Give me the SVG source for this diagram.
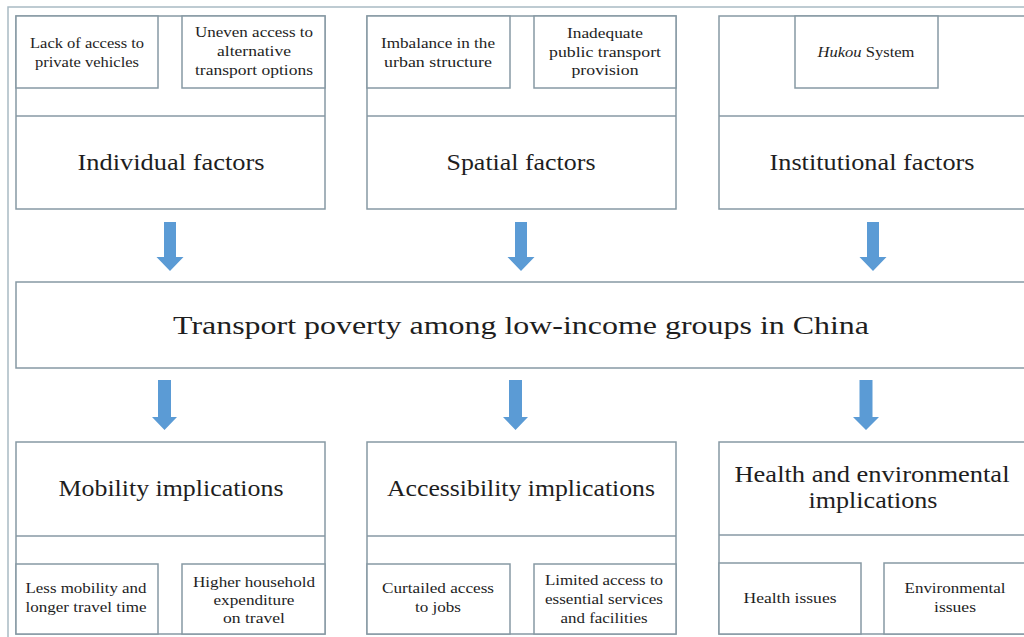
<svg xmlns="http://www.w3.org/2000/svg" width="1024" height="637" viewBox="0 0 1024 637">
<defs>
<style>
.frame{fill:none;stroke:#a9bac4;stroke-width:1.5}
.box{fill:#ffffff;stroke:#8799a4;stroke-width:1.5}
.line{stroke:#8799a4;stroke-width:1.5}
.arr{fill:#5b9bd5}
text{font-family:"Liberation Serif","Times New Roman",serif;fill:#1e1e1e;text-anchor:middle}
.s{font-size:15px}
.b{font-size:23px}
.m{font-size:26px}
</style>
</defs>
<rect x="0" y="0" width="1024" height="637" fill="#ffffff"/>
<path class="frame" d="M8,640 L8,7 L1030,7"/>

<g id="individual">
<rect class="box" x="16" y="16" width="309" height="193"/>
<line class="line" x1="16" y1="116" x2="325" y2="116"/>
<text class="b" x="171" y="170" textLength="187" lengthAdjust="spacingAndGlyphs">Individual factors</text>
</g>
<g id="lack-private">
<rect class="box" x="16" y="16" width="142" height="72"/>
<text class="s" x="87" y="48" textLength="114" lengthAdjust="spacingAndGlyphs">Lack of access to</text>
<text class="s" x="87" y="67" textLength="104" lengthAdjust="spacingAndGlyphs">private vehicles</text>
</g>
<g id="uneven-access">
<rect class="box" x="182" y="16" width="143" height="72"/>
<text class="s" x="254" y="37" textLength="118" lengthAdjust="spacingAndGlyphs">Uneven access to</text>
<text class="s" x="254" y="56" textLength="74" lengthAdjust="spacingAndGlyphs">alternative</text>
<text class="s" x="254" y="75" textLength="118" lengthAdjust="spacingAndGlyphs">transport options</text>
</g>

<g id="spatial">
<rect class="box" x="367" y="16" width="309" height="193"/>
<line class="line" x1="367" y1="116" x2="676" y2="116"/>
<text class="b" x="521" y="170" textLength="149" lengthAdjust="spacingAndGlyphs">Spatial factors</text>
</g>
<g id="imbalance">
<rect class="box" x="367" y="16" width="143" height="72"/>
<text class="s" x="438" y="48" textLength="114" lengthAdjust="spacingAndGlyphs">Imbalance in the</text>
<text class="s" x="438" y="67" textLength="108" lengthAdjust="spacingAndGlyphs">urban structure</text>
</g>
<g id="inadequate">
<rect class="box" x="534" y="16" width="142" height="72"/>
<text class="s" x="605" y="38" textLength="76" lengthAdjust="spacingAndGlyphs">Inadequate</text>
<text class="s" x="605" y="57" textLength="112" lengthAdjust="spacingAndGlyphs">public transport</text>
<text class="s" x="605" y="75" textLength="67" lengthAdjust="spacingAndGlyphs">provision</text>
</g>

<g id="institutional">
<rect class="box" x="719" y="16" width="315" height="193"/>
<line class="line" x1="719" y1="116" x2="1034" y2="116"/>
<text class="b" x="872" y="170" textLength="205" lengthAdjust="spacingAndGlyphs">Institutional factors</text>
</g>
<g id="hukou">
<rect class="box" x="795" y="16" width="143" height="72"/>
<text class="s" x="866" y="57" textLength="97" lengthAdjust="spacingAndGlyphs"><tspan font-style="italic">Hukou</tspan> System</text>
</g>

<g id="transport-poverty">
<rect class="box" x="16" y="282" width="1020" height="86"/>
<text class="m" x="521" y="334" textLength="696" lengthAdjust="spacingAndGlyphs">Transport poverty among low-income groups in China</text>
</g>

<g id="mobility">
<rect class="box" x="16" y="442" width="309" height="192"/>
<line class="line" x1="16" y1="536" x2="325" y2="536"/>
<text class="b" x="171" y="496" textLength="225" lengthAdjust="spacingAndGlyphs">Mobility implications</text>
</g>
<g id="less-mobility">
<rect class="box" x="16" y="564" width="142" height="70"/>
<text class="s" x="86" y="593" textLength="121" lengthAdjust="spacingAndGlyphs">Less mobility and</text>
<text class="s" x="86" y="612" textLength="121" lengthAdjust="spacingAndGlyphs">longer travel time</text>
</g>
<g id="higher-expenditure">
<rect class="box" x="182" y="564" width="143" height="70"/>
<text class="s" x="254" y="587" textLength="122" lengthAdjust="spacingAndGlyphs">Higher household</text>
<text class="s" x="254" y="605" textLength="81" lengthAdjust="spacingAndGlyphs">expenditure</text>
<text class="s" x="254" y="623" textLength="62" lengthAdjust="spacingAndGlyphs">on travel</text>
</g>

<g id="accessibility">
<rect class="box" x="367" y="442" width="309" height="192"/>
<line class="line" x1="367" y1="536" x2="676" y2="536"/>
<text class="b" x="521" y="496" textLength="268" lengthAdjust="spacingAndGlyphs">Accessibility implications</text>
</g>
<g id="curtailed-jobs">
<rect class="box" x="367" y="564" width="143" height="70"/>
<text class="s" x="438" y="593" textLength="112" lengthAdjust="spacingAndGlyphs">Curtailed access</text>
<text class="s" x="438" y="612" textLength="46" lengthAdjust="spacingAndGlyphs">to jobs</text>
</g>
<g id="limited-services">
<rect class="box" x="534" y="564" width="142" height="70"/>
<text class="s" x="604" y="585" textLength="118" lengthAdjust="spacingAndGlyphs">Limited access to</text>
<text class="s" x="604" y="604" textLength="118" lengthAdjust="spacingAndGlyphs">essential services</text>
<text class="s" x="604" y="623" textLength="87" lengthAdjust="spacingAndGlyphs">and facilities</text>
</g>

<g id="health-env">
<rect class="box" x="719" y="442" width="315" height="192"/>
<line class="line" x1="719" y1="535" x2="1034" y2="535"/>
<text class="b" x="872" y="482" textLength="275" lengthAdjust="spacingAndGlyphs">Health and environmental</text>
<text class="b" x="873" y="508" textLength="129" lengthAdjust="spacingAndGlyphs">implications</text>
</g>
<g id="health-issues">
<rect class="box" x="719" y="563" width="142" height="71"/>
<text class="s" x="790" y="603" textLength="93" lengthAdjust="spacingAndGlyphs">Health issues</text>
</g>
<g id="env-issues">
<rect class="box" x="884" y="563" width="142" height="71"/>
<text class="s" x="955" y="593" textLength="101" lengthAdjust="spacingAndGlyphs">Environmental</text>
<text class="s" x="955" y="612" textLength="42" lengthAdjust="spacingAndGlyphs">issues</text>
</g>

<g id="connectors">
<path class="arr" d="M164,222 H176 V257 H183.5 L170,271 L156.5,257 H164 Z"/>
<path class="arr" d="M515,222 H527 V257 H534.5 L521,271 L507.5,257 H515 Z"/>
<path class="arr" d="M867,222 H879 V257 H886.5 L873,271 L859.5,257 H867 Z"/>
<path class="arr" d="M158,380 H171 V417 H177 L164.5,430 L152,417 H158 Z"/>
<path class="arr" d="M509,380 H522 V417 H528 L515.5,430 L503,417 H509 Z"/>
<path class="arr" d="M859.5,380 H872.5 V417 H879 L866,430 L853,417 H859.5 Z"/>
</g>
</svg>
